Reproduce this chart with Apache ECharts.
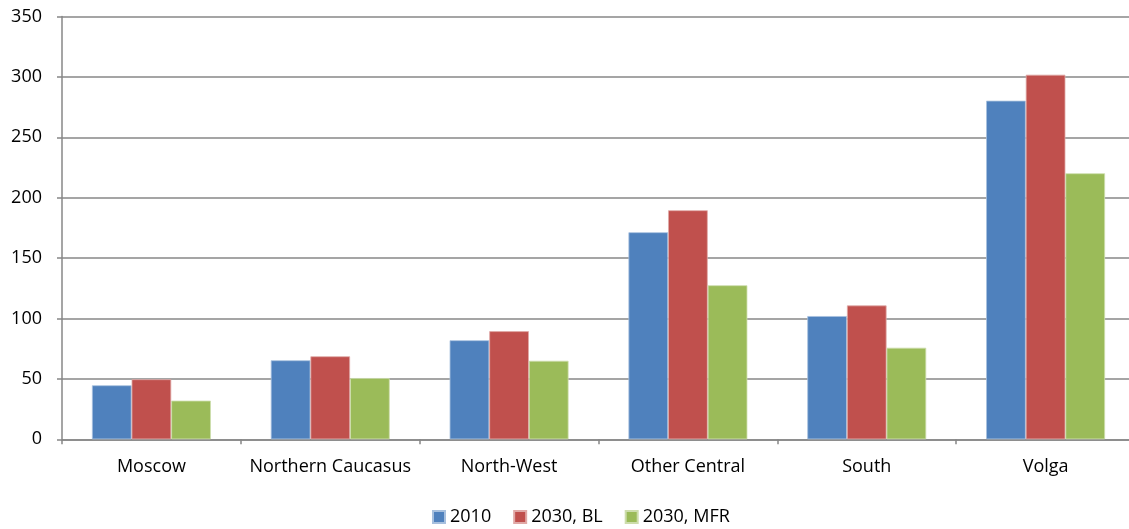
<!DOCTYPE html>
<html>
<head>
<meta charset="utf-8">
<script src="https://cdn.jsdelivr.net/npm/echarts@6/dist/echarts.min.js"></script>
<style>html,body{margin:0;padding:0;background:#fff;overflow:hidden;width:1129px;height:529px}#c{width:1140px;height:529px}</style>
</head>
<body>
<div id="c"></div>
<script>
const categories = ['Moscow', 'Northern Caucasus', 'North-West', 'Other Central', 'South', 'Volga'];
const s2010 = [44.7, 65.4, 82, 171.4, 102, 280.3];
const s2030BL = [49.7, 68.7, 89.5, 189.6, 110.8, 301.8];
const s2030MFR = [32, 50.7, 65, 127.5, 75.8, 220.2];
const seriesNames = ['2010', '2030, BL', '2030, MFR'];
const colors = ['#4F81BD', '#C0504D', '#9BBB59'];
const borders = ['#A7C0DE', '#E0A9A7', '#CDDDAC'];

const font = "'Open Sans', 'Liberation Sans', sans-serif";
const chart = echarts.init(document.getElementById('c'), null, {renderer: 'canvas'});
const data = [s2010, s2030BL, s2030MFR];
chart.setOption({
  animation: false,
  backgroundColor: '#fff',
  textStyle: {fontFamily: font},
  grid: {left: 62, width: 1073, top: 16.5, height: 422.8, containLabel: false},
  legend: {
    top: 508, left: 432, itemWidth: 12, itemHeight: 12, itemGap: 22, padding: 0,
    icon: 'rect',
    textStyle: {fontFamily: font, fontSize: 18, color: '#000'},
    data: seriesNames
  },
  xAxis: {
    type: 'category',
    data: categories,
    axisLine: {lineStyle: {color: '#878787', width: 1.5}},
    axisTick: {show: true, interval: 0, length: 5, lineStyle: {color: '#878787', width: 1.5}},
    axisLabel: {interval: 0, fontFamily: font, fontSize: 18, color: '#000', margin: 19}
  },
  yAxis: {
    type: 'value', min: 0, max: 350, interval: 50,
    axisLine: {show: true, lineStyle: {color: '#878787', width: 1.5}},
    axisTick: {show: true, length: 5, lineStyle: {color: '#878787', width: 1.5}},
    splitLine: {lineStyle: {color: '#878787', width: 1.5}},
    axisLabel: {fontFamily: font, fontSize: 18, color: '#000', margin: 20}
  },
  series: seriesNames.map((n, i) => ({
    name: n, type: 'bar', data: data[i],
    barGap: 0, barCategoryGap: '33.5%',
    itemStyle: {color: colors[i], borderColor: borders[i], borderWidth: 0.8}
  }))
});
</script>
</body>
</html>
